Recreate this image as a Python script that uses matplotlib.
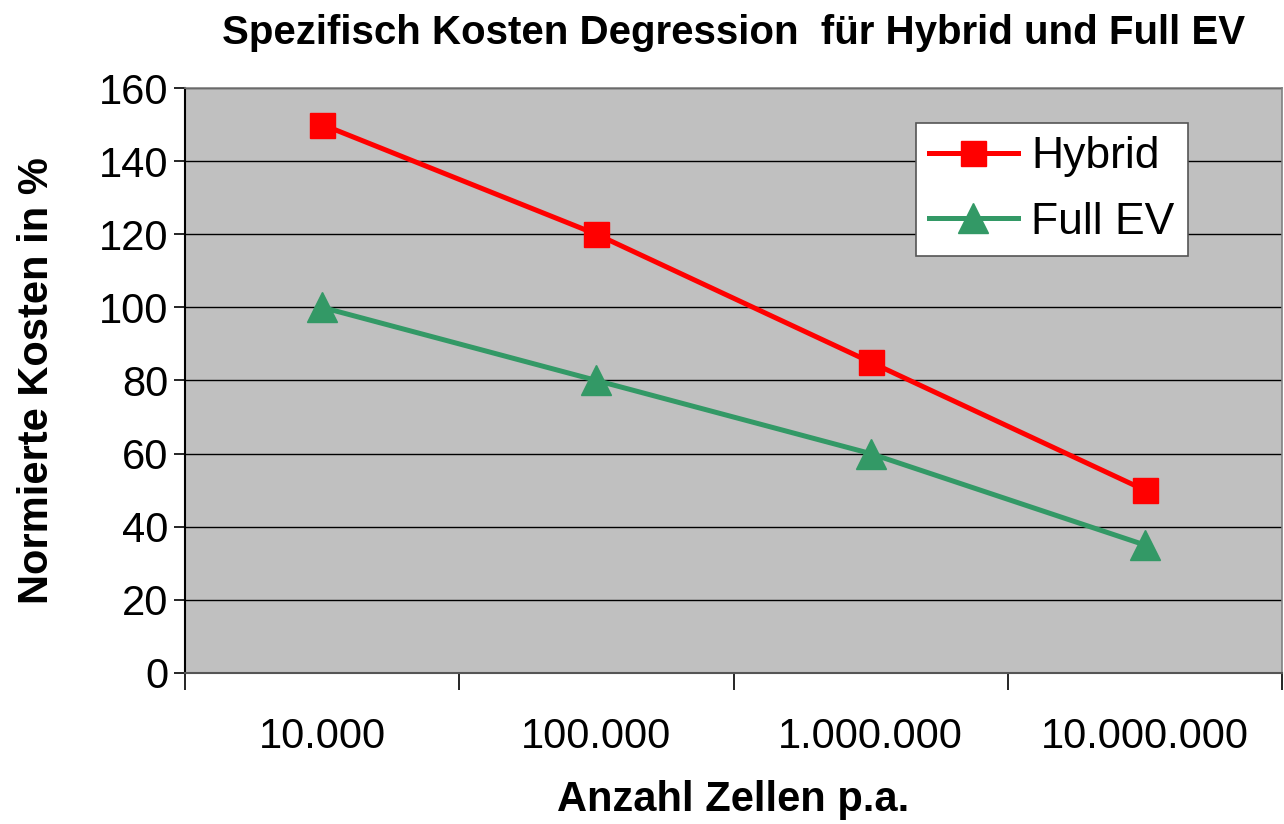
import numpy as np
import matplotlib.pyplot as plt

plt.rcParams['font.family'] = ['Liberation Sans', 'DejaVu Sans']

categories = ["10.000", "100.000", "1.000.000", "10.000.000"]
hybrid = [150, 120, 85, 50]
full_ev = [100, 80, 60, 35]

fig = plt.figure(figsize=(12.84, 8.24), dpi=100)
ax = fig.add_axes([0.1441, 0.1833, 0.8544, 0.7099])
ax.set_facecolor("#C0C0C0")

x = np.arange(len(categories))
ax.plot(x, hybrid, color="#FF0000", lw=3.6, marker="s", ms=18, label="Hybrid", zorder=3)
ax.plot(x, full_ev, color="#339966", lw=3.6, marker="^", ms=21, label="Full EV", zorder=3)

ax.set_xlim(-0.5, len(categories) - 0.5)
ax.set_ylim(0, 160)
ax.set_yticks(range(0, 161, 20))
ax.tick_params(axis="y", labelsize=30, length=8, width=1.2, direction="out", pad=4)
ax.set_xticks(np.arange(-0.5, len(categories), 1.0))
ax.set_xticklabels([])
ax.set_xticks(x, minor=True)
ax.set_xticklabels(categories, minor=True)
ax.tick_params(axis="x", which="major", length=12, width=1.2, direction="out")
ax.tick_params(axis="x", which="minor", length=0, labelsize=30, pad=32)
ax.grid(axis="y", color="black", lw=1.0)
ax.set_axisbelow(True)

for side in ["top", "right"]:
    ax.spines[side].set_color("#808080")
    ax.spines[side].set_linewidth(1.2)
ax.spines["left"].set_linewidth(1.5)
ax.spines["bottom"].set_color("#555555")
ax.spines["bottom"].set_linewidth(1.5)

ax.set_title("Spezifisch Kosten Degression  für Hybrid und Full EV",
             fontsize=29, fontweight="bold", pad=32)
ax.set_ylabel("Normierte Kosten in %", fontsize=30, fontweight="bold", labelpad=30)
ax.set_xlabel("Anzahl Zellen p.a.", fontsize=30, fontweight="bold", labelpad=16)

leg = ax.legend(loc="upper right", bbox_to_anchor=(0.914, 0.94), fontsize=32,
                frameon=True, fancybox=False, handlelength=2.0, handletextpad=0.3,
                borderpad=0.3, labelspacing=0.55, borderaxespad=0)
leg.get_frame().set_edgecolor("#555555")
leg.get_frame().set_linewidth(1.2)
leg.get_frame().set_facecolor("white")
leg.get_frame().set_alpha(1)

fig.savefig("out.png", dpi=100)
